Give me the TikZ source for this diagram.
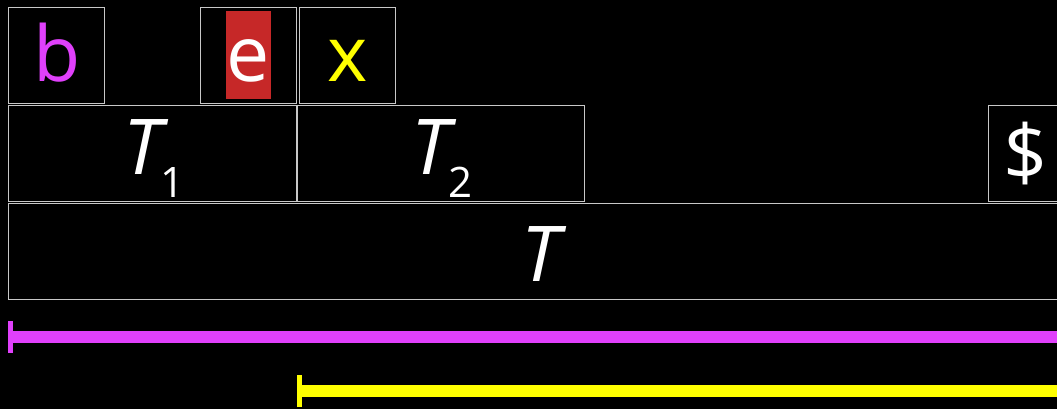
\documentclass[tikz,border=0pt]{standalone}
\usepackage{fontspec}
\setmainfont{Open Sans}
\definecolor{magbar}{HTML}{E040FB}
\definecolor{ylw}{HTML}{FFFF00}
\definecolor{redbg}{HTML}{C62828}
\definecolor{edge}{HTML}{C8C8C8}
\newcommand{\bigtxt}{\fontsize{77}{80}\selectfont}
\newcommand{\subtxt}{\fontsize{42}{44}\selectfont}
\begin{document}
\begin{tikzpicture}[x=1pt,y=-1pt,
  cell/.style={draw=edge,line width=0.9pt,inner sep=0pt,outer sep=0pt},
  lbl/.style={anchor=base,inner sep=0pt,font=\bigtxt,text=white},
  bar/.style={line width=11.5pt},
  tick/.style={line width=4.5pt}]
\useasboundingbox[fill=black] (0,0) rectangle (1057,409);
\clip (0,0) rectangle (1057,409);
% top row
\node[cell,minimum width=96pt,minimum height=96pt] (cb) at (56.5,55) {};
\node[cell,minimum width=96pt,minimum height=96pt] (ce) at (248.5,55) {};
\node[cell,minimum width=96pt,minimum height=96pt] (cx) at (347,55) {};
\node[fill=redbg,minimum width=45pt,minimum height=88pt,inner sep=0pt] (re) at (248.5,55) {};
\node[lbl,text=magbar] (tb) at (57,82) {b};
\node[lbl] (te) at (248.5,82) {e};
\node[lbl,text=ylw] (tx) at (347.5,82) {x};
% middle row
\node[cell,minimum width=288pt,minimum height=96pt] (c1) at (152,153) {};
\node[cell,minimum width=287pt,minimum height=96pt] (c2) at (440.5,153) {};
\node[cell,minimum width=96pt,minimum height=96pt] (cd) at (1036,153) {};
\node[lbl] (t1) at (154,175) {\itshape T\kern-1pt\raisebox{-23pt}{\subtxt\upshape 1}};
\node[lbl] (t2) at (442,175) {\itshape T\kern-1pt\raisebox{-23pt}{\subtxt\upshape 2}};
\node[lbl] (td) at (1025,180) {\$};
% bottom row
\node[cell,minimum width=1068pt,minimum height=96pt] (cT) at (542,251) {};
\node[lbl] (tT) at (541,281) {\itshape T};
% bars
\coordinate (m0) at (10.5,337);
\coordinate (m1) at (1070,337);
\coordinate (y0) at (299.5,391);
\coordinate (y1) at (1070,391);
\draw[bar,magbar] (m0) -- (m1);
\draw[tick,magbar] ([yshift=-16pt]m0) -- ([yshift=16pt]m0);
\draw[bar,ylw] (y0) -- (y1);
\draw[tick,ylw] ([yshift=-16pt]y0) -- ([yshift=16pt]y0);
\end{tikzpicture}
\end{document}
